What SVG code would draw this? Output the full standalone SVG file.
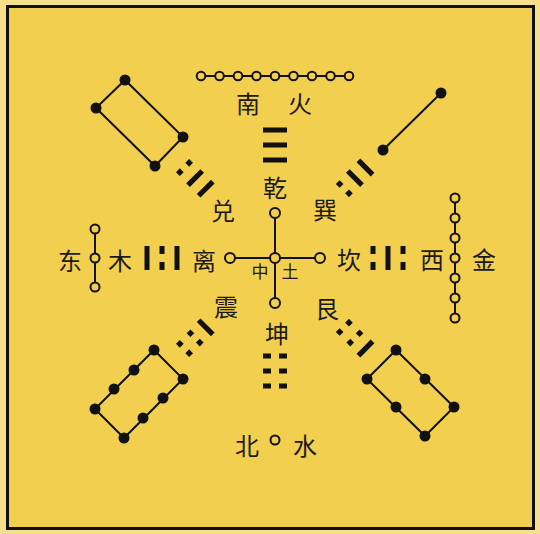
<svg xmlns="http://www.w3.org/2000/svg" xmlns:xlink="http://www.w3.org/1999/xlink" width="540" height="534" viewBox="0 0 540 534">
<defs>
<style>
.t{font-family:"Noto Sans CJK SC","Noto Sans CJK JP",sans-serif;font-size:24px;fill:#1a1a1a;text-anchor:middle;dominant-baseline:central}
.s{font-size:17px}
.ln{stroke:#111;stroke-width:2;fill:none}
.oc{fill:#F3CF4F;stroke:#111;stroke-width:2}
.bd{fill:#111}
.bar{fill:#111}
</style>
<g id="S"><rect class="bar" x="263" y="-2.5" width="24" height="5"/></g>
<g id="B"><rect class="bar" x="263" y="-2.5" width="8" height="5"/><rect class="bar" x="279" y="-2.5" width="8" height="5"/></g>
<g id="SD"><rect class="bar" x="265" y="-2.6" width="20" height="5.2"/></g>
<g id="BD"><rect class="bar" x="265.7" y="-2.7" width="5.4" height="5.4"/><rect class="bar" x="278.9" y="-2.7" width="5.4" height="5.4"/></g>
</defs>
<rect x="0" y="0" width="540" height="534" fill="#F7E08C"/>
<rect x="7.5" y="6.5" width="526" height="522" fill="#F3CF4F" stroke="#111" stroke-width="3"/>

<g id="connectors">
<line class="ln" x1="201" y1="76" x2="349" y2="76"/>
<line class="ln" x1="455" y1="198" x2="455" y2="318"/>
<line class="ln" x1="95" y1="229" x2="95" y2="287"/>
<line class="ln" x1="230" y1="258" x2="320" y2="258"/>
<line class="ln" x1="275" y1="213" x2="275" y2="303"/>
<line class="ln" x1="383" y1="150" x2="441" y2="93"/>
<polygon class="ln" points="125,80 183,137 155,166 96,108"/>
<polygon class="ln" points="154,350 183,379 124,438 95,409"/>
<polygon class="ln" points="396,350 454,407 425,436 367,379"/>
</g>

<g id="south-9">
<circle class="oc" cx="201" cy="76" r="4.3"/><circle class="oc" cx="219.5" cy="76" r="4.3"/><circle class="oc" cx="238" cy="76" r="4.3"/><circle class="oc" cx="256.5" cy="76" r="4.3"/><circle class="oc" cx="275" cy="76" r="4.3"/><circle class="oc" cx="293.5" cy="76" r="4.3"/><circle class="oc" cx="312" cy="76" r="4.3"/><circle class="oc" cx="330.5" cy="76" r="4.3"/><circle class="oc" cx="349" cy="76" r="4.3"/>
</g>
<g id="west-7">
<circle class="oc" cx="455" cy="198" r="4.5"/><circle class="oc" cx="455" cy="218" r="4.5"/><circle class="oc" cx="455" cy="238" r="4.5"/><circle class="oc" cx="455" cy="258" r="4.5"/><circle class="oc" cx="455" cy="278" r="4.5"/><circle class="oc" cx="455" cy="298" r="4.5"/><circle class="oc" cx="455" cy="318" r="4.5"/>
</g>
<g id="east-3">
<circle class="oc" cx="95" cy="229" r="4.5"/><circle class="oc" cx="95" cy="258" r="4.5"/><circle class="oc" cx="95" cy="287" r="4.5"/>
</g>
<g id="center-5">
<circle class="oc" cx="275" cy="258" r="5"/><circle class="oc" cx="230" cy="258" r="5"/><circle class="oc" cx="320" cy="258" r="5"/><circle class="oc" cx="275" cy="213" r="5"/><circle class="oc" cx="275" cy="303" r="5"/>
</g>
<g id="north-1"><circle class="oc" cx="275" cy="440" r="4.5"/></g>
<g id="ne-2"><circle class="bd" cx="383" cy="150" r="5.5"/><circle class="bd" cx="441" cy="93" r="5.5"/></g>
<g id="nw-4"><circle class="bd" cx="125" cy="80" r="5.5"/><circle class="bd" cx="183" cy="137" r="5.5"/><circle class="bd" cx="155" cy="166" r="5.5"/><circle class="bd" cx="96" cy="108" r="5.5"/></g>
<g id="sw-8"><circle class="bd" cx="154" cy="350" r="5.5"/><circle class="bd" cx="134" cy="370" r="5.5"/><circle class="bd" cx="114" cy="389" r="5.5"/><circle class="bd" cx="95" cy="409" r="5.5"/><circle class="bd" cx="183" cy="379" r="5.5"/><circle class="bd" cx="163" cy="398" r="5.5"/><circle class="bd" cx="143" cy="418" r="5.5"/><circle class="bd" cx="124" cy="438" r="5.5"/></g>
<g id="se-6"><circle class="bd" cx="396" cy="350" r="5.5"/><circle class="bd" cx="425" cy="379" r="5.5"/><circle class="bd" cx="454" cy="407" r="5.5"/><circle class="bd" cx="367" cy="379" r="5.5"/><circle class="bd" cx="396" cy="407" r="5.5"/><circle class="bd" cx="425" cy="436" r="5.5"/></g>

<g id="qian" transform="rotate(0 275 258)"><use href="#S" y="130"/><use href="#S" y="145"/><use href="#S" y="160"/></g>
<g id="xun" transform="rotate(45 275 258)"><use href="#SD" y="130"/><use href="#SD" y="145"/><use href="#BD" y="160"/></g>
<g id="kan" transform="rotate(90 275 258)"><use href="#B" y="130"/><use href="#S" y="145"/><use href="#B" y="160"/></g>
<g id="gen" transform="rotate(135 275 258)"><use href="#SD" y="130"/><use href="#BD" y="145"/><use href="#BD" y="160"/></g>
<g id="kun" transform="rotate(180 275 258)"><use href="#B" y="130"/><use href="#B" y="145"/><use href="#B" y="160"/></g>
<g id="zhen" transform="rotate(225 275 258)"><use href="#BD" y="130"/><use href="#BD" y="145"/><use href="#SD" y="160"/></g>
<g id="li" transform="rotate(270 275 258)"><use href="#S" y="130"/><use href="#B" y="145"/><use href="#S" y="160"/></g>
<g id="dui" transform="rotate(315 275 258)"><use href="#BD" y="130"/><use href="#SD" y="145"/><use href="#SD" y="160"/></g>

<g id="labels">
<text class="t" x="248" y="102">南</text>
<text class="t" x="300" y="102">火</text>
<text class="t" x="275" y="186">乾</text>
<text class="t" x="223" y="209">兑</text>
<text class="t" x="325" y="208">巽</text>
<text class="t" x="204" y="259">离</text>
<text class="t" x="349" y="258">坎</text>
<text class="t" x="226" y="305">震</text>
<text class="t" x="327" y="307">艮</text>
<text class="t" x="277" y="332">坤</text>
<text class="t" x="70" y="259">东</text>
<text class="t" x="120" y="259">木</text>
<text class="t" x="432" y="258">西</text>
<text class="t" x="484" y="258">金</text>
<text class="t" x="247" y="444">北</text>
<text class="t" x="305" y="444">水</text>
<text class="t s" x="260" y="270">中</text>
<text class="t s" x="290" y="270">土</text>
</g>
</svg>
